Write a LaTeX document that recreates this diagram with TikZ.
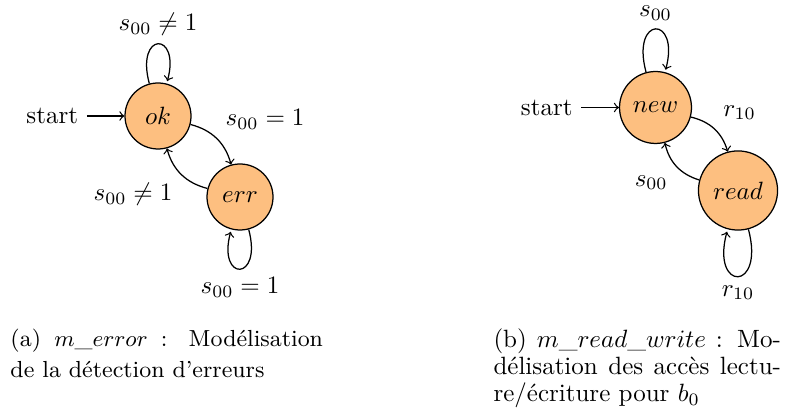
\documentclass[tikz,border=0pt]{standalone}
\usepackage{tikz}
\usetikzlibrary{positioning}
\definecolor{etatorange}{HTML}{FDBF80}

\begin{document}
\begin{tikzpicture}[
    x=0.4pt, y=-0.4pt,
    etat/.style={circle, draw=black, fill=etatorange, line width=0.5pt, minimum size=26.4pt, inner sep=4pt},
    fleche/.style={draw, ->, line width=0.5pt},
    legende/.style={inner sep=0pt, align=justify, anchor=base west}
]
\useasboundingbox (0,0) rectangle (785,410);

% (a) detection d'erreurs
\node [etat] (ok) at (158,116) {$ok$};
\node [etat, on grid, below right=32.4pt and 32.8pt of ok] (err) {$err$};
\node [left=15pt of ok] (debutA) {start};

\draw [fleche] (debutA) -- (ok);
\path [fleche] (ok) edge [loop above] node [above] {$s_{00} \neq 1$} ();
\draw [fleche] (ok) to [bend left] node [above right] {$s_{00} = 1$} (err);
\draw [fleche] (err) to [bend left] node [below left] {$s_{00} \neq 1$} (ok);
\path [fleche] (err) edge [loop below] node [below] {$s_{00} = 1$} ();

% (b) acces lecture/ecriture
\node [etat] (new) at (655.5,107.5) {$new$};
\node [etat, on grid, below right=33.2pt and 33pt of new] (read) {$read$};
\node [left=15pt of new] (debutB) {start};

\draw [fleche] (debutB) -- (new);
\path [fleche] (new) edge [loop above] node [above] {$s_{00}$} ();
\draw [fleche] (new) to [bend left] node [above right] {$r_{10}$} (read);
\draw [fleche] (read) to [bend left] node [below left] {$s_{00}$} (new);
\path [fleche] (read) edge [loop below] node [below] {$r_{10}$} ();

% legendes
\node [legende, text width=125pt, font=\fontsize{9.3}{12.4}\selectfont] (legA) at (10,347)
  {(a) $m\_error$ : Modélisation\linebreak de la détection d'erreurs};
\node [legende, text width=115pt, font=\fontsize{10}{10.8}\selectfont] (legB) at (493,348)
  {(b) $m\_read\_write$ : Mo-\linebreak délisation des accès lectu-\linebreak re/écriture pour $b_0$};

\end{tikzpicture}
\end{document}
